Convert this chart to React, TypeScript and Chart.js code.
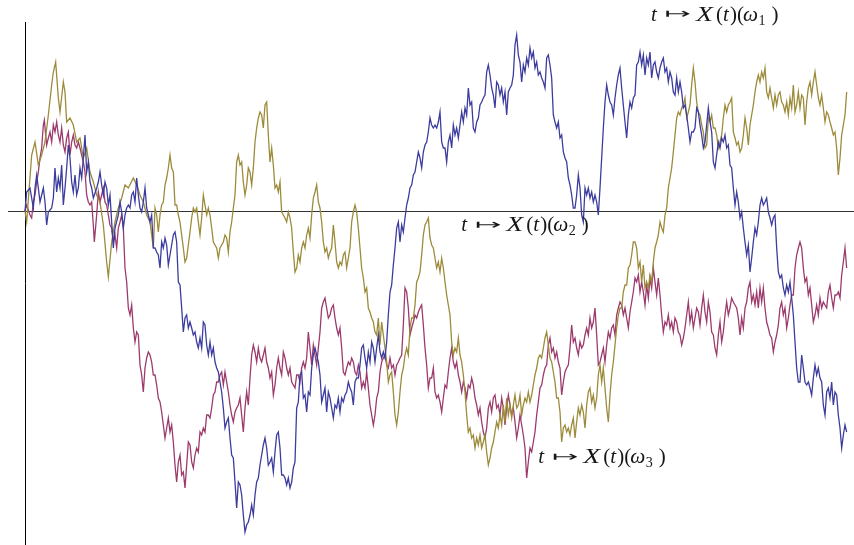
import React, { useEffect, useRef } from "react";
import { Chart, registerables } from "chart.js";

Chart.register(...registerables);

// time index: one step of the sampled path. Head segments are irregularly read,
// the rest is sampled at consecutive steps starting at TAIL_START.
const TAIL_START = 78;

// ---------- path ω1 (olive) ----------
const oliveHeadT = [0, 1, 4, 6, 8, 10, 12, 14, 16, 17, 18.4, 20, 21, 23, 24, 25, 27, 29, 31, 33, 35, 37, 39, 41, 43, 45, 47, 49, 50, 52, 54, 56, 58, 60, 62, 65, 67, 69, 71, 73, 75, 77];
const oliveHeadV = [0, -0.11, 0.56, 0.69, 0.46, 0.56, 0.69, 0.96, 1.26, 1.39, 1.49, 1.13, 0.99, 1.29, 1.19, 0.89, 0.93, 0.86, 0.69, 0.73, 0.53, 0.63, 0.39, 0.29, 0.16, 0.09, -0.14, -0.51, -0.66, -0.31, -0.11, 0.03, 0.13, 0.26, 0.23, 0.33, 0.26, 0.16, 0.09, -0.04, -0.11, -0.37];
const oliveTailV = [
  0.03, -0.04, -0.21, -0.04, 0.06, 0.09, 0.26, 0.33, 0.43, 0.56,
  0.43, 0.39, 0.06, 0.06, -0.04, -0.11, -0.24, -0.37, -0.51, -0.47,
  -0.34, -0.21, -0.07, 0.03, -0.01, 0.03, -0.11, -0.24, -0.07, 0.16,
  0.06, -0.04, 0.03, -0.04, -0.17, -0.31, -0.34, -0.37, -0.47, -0.37,
  -0.34, -0.31, -0.24, -0.27, -0.41, -0.21, -0.11, 0.03, 0.16, 0.49,
  0.56, 0.46, 0.49, 0.29, 0.16, 0.26, 0.43, 0.39, 0.26, 0.43,
  0.69, 0.83, 0.93, 0.99, 0.96, 0.83, 1.06, 1.09, 0.76, 0.49,
  0.63, 0.46, 0.23, 0.26, 0.19, 0.29, -0.01, -0.04, -0.07, -0.11,
  -0.01, -0.07, -0.17, -0.41,
  -0.61, -0.57, -0.44, -0.51, -0.37, -0.31, -0.37, -0.24, -0.17, -0.27,
  -0.04, 0.13, 0.19, 0.26, 0.09, 0.03, -0.11, -0.31, -0.41, -0.37,
  -0.47, -0.41, -0.37, -0.14, -0.31, -0.51, -0.57, -0.51, -0.54, -0.44,
  -0.41, -0.57, -0.47, -0.37, -0.11, -0.01, 0.06, -0.01, -0.17, -0.37,
  -0.57, -0.67, -0.81, -0.77, -0.97, -1.01, -1.07, -1.11, -1.21, -1.24,
  -1.07, -1.34, -1.11, -1.24, -1.37, -1.51, -1.71, -1.64, -1.61, -1.81,
  -2.04, -2.14, -2.01, -1.81, -1.64, -1.57, -1.44, -1.37, -1.44, -1.17,
  -1.07, -1.07, -0.94, -0.71, -0.67, -0.61, -0.44, -0.24, -0.14, -0.11,
  -0.07, -0.27, -0.34, -0.37,
  -0.47, -0.57, -0.51, -0.61, -0.47, -0.57, -0.71, -0.84, -0.94, -1.04,
  -1.31, -1.44, -1.37, -1.41, -1.27, -1.44, -1.51, -1.64, -1.81, -2.04,
  -2.21, -2.17, -2.27, -2.24, -2.37, -2.27, -2.34, -2.24, -2.37, -2.31,
  -2.24, -2.41, -2.54, -2.47, -2.37, -2.31, -2.21, -2.11, -2.17, -2.04,
  -2.14, -1.94, -2.11, -1.87, -2.04, -1.94, -2.07, -1.94, -1.84, -1.97,
  -1.94, -1.84, -2.04, -1.94, -1.87, -1.91, -1.81, -1.91, -1.84, -1.74,
  -1.64, -1.57, -1.47, -1.44, -1.47, -1.37, -1.27, -1.21, -1.34, -1.47,
  -1.51, -1.61, -1.71, -1.87, -1.87, -2.01, -2.31, -2.17, -2.14, -2.21,
  -2.17, -2.24, -2.14, -2.07,
  -2.27, -2.11, -1.97, -2.04, -1.94, -2.01, -2.17, -1.94, -1.81, -1.77,
  -1.91, -1.84, -1.97, -1.87, -1.64, -1.54, -1.71, -1.57, -1.77, -1.97,
  -2.11, -1.84, -1.64, -1.51, -1.34, -1.17, -1.04, -0.97, -0.97, -0.81,
  -0.74, -0.74, -0.57, -0.54, -0.44, -0.31, -0.31, -0.37, -0.57, -0.51,
  -0.71, -0.54, -0.77, -0.71, -0.77, -0.64, -0.71, -0.51, -0.37, -0.31,
  -0.24, -0.11, -0.17, -0.21, -0.04, 0.03, 0.23, 0.33, 0.43, 0.59,
  0.76, 0.93, 0.99, 0.96, 1.03, 1.06, 1.13, 0.93, 0.99, 1.06,
  1.26, 1.43, 1.29, 1.09, 0.99, 0.96, 0.86, 0.79, 0.63, 0.66,
  0.93, 0.89, 0.96, 0.83,
  0.83, 0.76, 0.63, 0.69, 0.76, 0.93, 1.06, 0.99, 1.06, 1.09,
  1.13, 0.79, 0.73, 0.66, 0.69, 0.59, 0.63, 0.76, 0.93, 0.83,
  0.66, 0.86, 0.96, 1.06, 1.19, 1.29, 1.36, 1.29, 1.39, 1.33,
  1.43, 1.19, 1.13, 1.23, 1.13, 1.03, 1.16, 1.06, 1.16, 1.19,
  1.09, 1.06, 0.99, 1.09, 0.96, 1.13, 1.03, 1.26, 0.99, 1.06,
  1.19, 1.03, 1.16, 1.13, 0.86, 1.09, 1.23, 1.29, 1.16, 1.29,
  1.39, 1.26, 1.13, 1.06, 1.16, 1.03, 0.89, 0.99, 0.96, 0.89,
  0.83, 0.76, 0.79, 0.63, 0.36, 0.53, 0.76, 0.86, 0.96, 1.19,
];

// ---------- path ω2 (blue) ----------
const blueHeadT = [0, 1, 3, 4, 5, 6, 7, 8, 9, 11, 12, 13, 14, 16, 17, 18, 19, 20, 21, 22, 23, 24, 25, 26, 27, 28, 29, 30, 31, 32, 33, 34, 35, 36, 37, 38, 39, 40, 41, 43, 44, 45, 46, 47, 48, 49, 50, 51, 52, 53, 54, 56, 57, 58, 59, 60, 61, 62, 63, 64, 65, 66, 67, 68, 69, 70, 71, 72, 73, 74, 75, 76, 77];
const blueHeadV = [0, 0.19, 0.23, 0.13, 0.03, 0.23, 0.36, 0.23, 0.09, 0.23, 0.09, -0.14, -0.01, 0.03, 0.13, 0.43, 0.19, 0.33, 0.23, 0.46, 0.06, 0.23, 0.43, 0.66, 0.53, 0.29, 0.19, 0.36, 0.16, 0.23, 0.43, 0.33, 0.53, 0.76, 0.39, 0.49, 0.29, 0.23, 0.13, 0.23, 0.29, 0.39, 0.26, 0.16, 0.29, 0.23, 0.06, 0.16, -0.11, -0.37, -0.17, -0.04, 0.09, -0.01, -0.17, -0.04, 0.03, 0.06, 0.03, 0.16, 0.19, 0.09, 0.33, 0.16, 0.03, -0.01, 0.09, 0.23, 0.03, -0.04, -0.11, -0.04, -0.37];
const blueTailV = [
  -0.37, -0.41, -0.44, -0.57, -0.31, -0.37, -0.27, -0.34, -0.54, -0.44,
  -0.34, -0.24, -0.21, -0.31, -0.71, -0.74, -0.97, -1.21, -1.07, -1.04,
  -1.17, -1.11, -1.17, -1.24, -1.21, -1.31, -1.37, -1.27, -1.37, -1.11,
  -1.14, -1.34, -1.44, -1.31, -1.44, -1.37, -1.51, -1.57, -1.61, -1.71,
  -1.81, -1.97, -2.17, -2.11, -2.07, -2.27, -2.44, -2.47, -2.71, -2.97,
  -2.71, -2.74, -2.84, -3.04, -3.21, -3.14, -3.11, -3.04, -2.94, -3.04,
  -2.84, -2.71, -2.67, -2.54, -2.44, -2.34, -2.27, -2.37, -2.54, -2.51,
  -2.47, -2.61, -2.41, -2.24, -2.21, -2.37, -2.64, -2.64, -2.67, -2.74,
  -2.67, -2.77, -2.71, -2.57,
  -2.51, -1.97, -1.91, -1.64, -1.61, -1.87, -1.84, -2.01, -1.81, -1.84,
  -1.57, -1.44, -1.37, -1.44, -1.51, -1.64, -1.91, -1.84, -1.77, -2.01,
  -1.81, -1.87, -1.97, -2.07, -1.94, -1.97, -1.87, -2.01, -1.87, -1.91,
  -1.84, -1.81, -1.71, -1.77, -1.81, -1.94, -1.71, -1.67, -1.67, -1.54,
  -1.37, -1.34, -1.47, -1.57, -1.41, -1.51, -1.31, -1.37, -1.51, -1.37,
  -1.24, -1.41, -1.47, -1.41, -1.47, -1.31, -1.04, -0.81, -0.74, -0.54,
  -0.37, -0.17, -0.11, -0.31, -0.14, -0.21, -0.07, 0.06, 0.13, 0.23,
  0.26, 0.36, 0.39, 0.49, 0.59, 0.53, 0.43, 0.59, 0.66, 0.69,
  0.79, 0.93, 0.86, 0.83,
  0.86, 0.83, 0.89, 0.99, 0.69, 0.63, 0.63, 0.49, 0.69, 0.76,
  0.63, 0.86, 0.76, 0.83, 0.73, 0.86, 0.99, 0.89, 1.03, 0.96,
  1.23, 1.06, 1.09, 0.83, 0.79, 0.89, 0.93, 1.06, 1.09, 1.13,
  1.16, 1.39, 1.46, 1.36, 1.23, 1.16, 1.03, 1.29, 1.26, 1.16,
  1.23, 1.09, 1.19, 0.96, 1.19, 1.23, 1.26, 1.36, 1.66, 1.76,
  1.56, 1.49, 1.29, 1.46, 1.39, 1.53, 1.46, 1.63, 1.53, 1.59,
  1.43, 1.49, 1.36, 1.39, 1.33, 1.29, 1.23, 1.53, 1.56, 1.46,
  1.33, 0.96, 0.89, 0.83, 0.89, 0.73, 0.76, 0.59, 0.53, 0.49,
  0.33, 0.26, 0.16, 0.03,
  0.03, 0.16, 0.36, 0.23, -0.04, -0.11, 0.23, 0.16, 0.23, 0.13,
  0.19, 0.09, 0.16, 0.09, -0.04, 0.23, 0.53, 0.83, 1.09, 1.26,
  1.16, 1.09, 1.06, 0.96, 1.13, 1.26, 1.36, 1.43, 1.23, 1.06,
  0.89, 0.73, 0.96, 1.09, 1.03, 1.13, 1.16, 1.46, 1.49, 1.59,
  1.46, 1.56, 1.36, 1.53, 1.46, 1.59, 1.33, 1.46, 1.49, 1.39,
  1.33, 1.43, 1.49, 1.53, 1.39, 1.43, 1.29, 1.39, 1.33, 1.19,
  1.16, 1.33, 1.19, 1.29, 1.19, 1.03, 1.06, 0.96, 0.83, 0.69,
  0.79, 0.79, 0.83, 1.03, 0.99, 0.86, 0.76, 0.63, 0.69, 0.86,
  1.03, 0.89, 0.79, 0.49,
  0.43, 0.56, 0.69, 0.63, 0.73, 0.69, 0.76, 0.63, 0.66, 0.46,
  0.43, 0.23, 0.06, 0.19, 0.09, -0.07, -0.01, -0.17, -0.31, -0.44,
  -0.34, -0.61, -0.47, -0.31, -0.17, -0.24, -0.11, 0.06, 0.13, 0.06,
  0.09, 0.13, -0.01, -0.07, -0.14, -0.07, -0.04, -0.37, -0.61, -0.67,
  -0.64, -0.77, -0.84, -0.74, -0.81, -0.71, -0.87, -1.04, -1.31, -1.57,
  -1.71, -1.71, -1.44, -1.57, -1.71, -1.74, -1.71, -1.77, -1.84, -1.67,
  -1.54, -1.64, -1.57, -1.67, -1.71, -1.94, -2.04, -1.81, -1.77, -1.87,
  -1.71, -1.94, -1.81, -1.84, -2.04, -2.17, -2.37, -2.24, -2.14, -2.21,
];

// ---------- path ω3 (magenta) ----------
const magHeadT = [0, 1, 3, 4, 5, 6, 7, 8, 9, 10, 11, 11.6, 12.4, 13, 14, 15, 16, 17, 18, 19, 20, 21, 22, 23, 24, 25, 26, 27, 28, 29, 30, 31, 32, 33, 34, 35, 36, 37, 38, 39, 40, 41, 41.6, 43, 44, 45, 46, 47, 48, 49, 50, 51, 52, 53, 54, 55, 56, 57, 58, 59, 60, 61, 62, 63, 64, 65, 66, 67, 68, 69, 70, 71, 72, 73, 74, 75, 76, 77];
const magHeadV = [0, 0.06, -0.04, -0.07, 0.09, 0.16, 0.29, 0.39, 0.53, 0.63, 0.86, 0.91, 0.76, 0.66, 0.73, 0.79, 0.69, 0.86, 0.79, 0.89, 0.76, 0.69, 0.83, 0.66, 0.59, 0.73, 0.79, 0.56, 0.69, 0.76, 0.66, 0.63, 0.69, 0.63, 0.56, 0.49, 0.39, 0.16, 0.09, 0.06, 0.09, -0.14, -0.31, -0.04, 0.19, 0.09, 0.16, 0.23, 0.09, 0.06, -0.04, -0.14, -0.17, -0.31, -0.24, -0.37, -0.17, -0.11, -0.04, -0.17, -0.57, -0.71, -0.97, -1.04, -0.94, -1.17, -1.31, -1.21, -1.24, -1.54, -1.64, -1.81, -1.57, -1.47, -1.41, -1.44, -1.51, -1.64];
const magTailV = [
  -1.64, -1.74, -1.87, -1.91, -2.01, -2.14, -2.27, -2.17, -2.07, -2.21,
  -2.14, -2.31, -2.54, -2.71, -2.51, -2.44, -2.64, -2.61, -2.77, -2.54,
  -2.31, -2.34, -2.51, -2.57, -2.44, -2.37, -2.41, -2.21, -2.24, -2.17,
  -2.21, -2.04, -2.04, -2.07, -1.97, -1.84, -1.81, -1.71, -1.71, -1.64,
  -1.61, -1.74, -1.61, -1.71, -1.81, -1.94, -2.04, -2.11, -2.01, -1.97,
  -1.94, -1.87, -2.04, -2.21, -1.97, -1.81, -1.94, -1.67, -1.44, -1.34,
  -1.41, -1.51, -1.37, -1.47, -1.51, -1.44, -1.37, -1.51, -1.57, -1.67,
  -1.61, -1.84, -1.74, -1.57, -1.47, -1.57, -1.64, -1.41, -1.47, -1.57,
  -1.64, -1.57, -1.71, -1.74,
  -1.77, -1.64, -1.64, -1.71, -1.57, -1.51, -1.57, -1.47, -1.21, -1.37,
  -1.54, -1.34, -1.44, -1.54, -1.37, -1.21, -0.97, -0.91, -0.87, -0.97,
  -1.07, -1.04, -0.97, -0.94, -1.07, -1.17, -1.24, -1.17, -1.37, -1.61,
  -1.64, -1.57, -1.51, -1.54, -1.47, -1.51, -1.61, -1.64, -1.54, -1.61,
  -1.77, -1.71, -1.77, -1.61, -1.77, -1.94, -2.04, -2.14, -2.04, -1.87,
  -1.81, -1.61, -1.51, -1.47, -1.44, -1.54, -1.57, -1.47, -1.57, -1.54,
  -1.64, -1.54, -1.51, -1.47, -1.44, -1.14, -0.77, -0.81, -0.97, -1.24,
  -1.17, -1.11, -1.04, -1.07, -1.01, -0.97, -0.94, -1.14, -1.37, -1.54,
  -1.77, -1.67, -1.67, -1.57,
  -1.81, -1.87, -1.84, -1.91, -2.01, -1.87, -1.74, -1.77, -1.61, -1.47,
  -1.37, -1.51, -1.57, -1.51, -1.64, -1.71, -1.81, -1.71, -1.77, -1.87,
  -1.74, -1.77, -1.67, -1.74, -1.87, -1.94, -2.04, -1.97, -2.11, -2.21,
  -2.27, -2.17, -1.97, -1.91, -2.01, -1.87, -1.84, -1.97, -1.94, -2.04,
  -1.87, -1.97, -2.14, -1.97, -1.84, -1.94, -2.04, -1.97, -2.11, -2.27,
  -2.17, -2.04, -2.14, -2.24, -2.37, -2.67, -2.51, -2.37, -2.41, -2.31,
  -2.21, -2.04, -1.91, -1.77, -1.74, -1.64, -1.57, -1.54, -1.34, -1.27,
  -1.41, -1.37, -1.47, -1.41, -1.51, -1.57, -1.84, -1.71, -1.61, -1.57,
  -1.54, -1.37, -1.14, -1.31,
  -1.27, -1.37, -1.44, -1.31, -1.37, -1.34, -1.24, -1.17, -1.24, -1.07,
  -1.17, -1.11, -0.97, -1.24, -1.54, -1.51, -1.44, -1.37, -1.51, -1.34,
  -1.21, -1.27, -1.17, -1.14, -1.24, -1.04, -0.97, -0.91, -0.94, -1.04,
  -0.97, -1.07, -1.17, -1.01, -0.91, -0.81, -0.67, -0.71, -0.64, -0.81,
  -0.71, -0.81, -0.94, -0.74, -0.87, -0.67, -0.77, -0.57, -0.71, -0.84,
  -0.67, -0.84, -1.04, -1.21, -1.11, -1.14, -1.04, -1.17, -1.11, -1.21,
  -1.07, -1.11, -1.21, -1.24, -1.34, -1.27, -1.17, -1.04, -0.91, -1.11,
  -1.01, -1.17, -1.07, -0.97, -1.01, -1.14, -0.97, -0.84, -1.01, -1.11,
  -0.91, -1.01, -1.21, -1.24,
  -1.37, -1.44, -1.24, -1.11, -1.31, -1.21, -1.04, -0.91, -1.04, -0.97,
  -0.87, -0.91, -0.94, -0.97, -1.07, -1.24, -1.07, -1.17, -0.97, -0.91,
  -0.77, -0.71, -0.91, -0.84, -0.94, -0.81, -0.97, -0.77, -0.91, -0.77,
  -0.97, -1.11, -1.17, -1.24, -1.27, -1.41, -1.31, -1.24, -1.14, -0.97,
  -0.91, -1.04, -0.97, -1.17, -1.07, -0.94, -0.84, -0.84, -0.57, -0.44,
  -0.37, -0.31, -0.37, -0.57, -0.71, -0.67, -0.84, -0.77, -0.94, -1.11,
  -1.04, -0.94, -1.04, -0.87, -0.97, -0.91, -0.94, -0.97, -0.81, -0.74,
  -0.87, -0.97, -0.84, -0.84, -0.81, -0.87, -0.64, -0.51, -0.37, -0.57,
];

// path labels: subscript index, anchor time and value (baseline)
const labelIndex = ["1", "2", "3"];
const labelT = [375.6, 261.8, 308];
const labelV = [1.905, -0.203, -2.52];

function buildPoints(headT: number[], headV: number[], tailV: number[]) {
  const pts = headT.map((t, i) => ({ x: t, y: headV[i] }));
  tailV.forEach((v, i) => pts.push({ x: TAIL_START + i, y: v }));
  return pts;
}

const labelPlugin = {
  id: "pathLabels",
  afterDatasetsDraw(chart: any) {
    const { ctx, scales } = chart;
    const xs = scales.x;
    const ys = scales.y;
    const italic = 'italic 21px "Liberation Serif", "DejaVu Serif", serif';
    const italicBig = 'italic 22px "Liberation Serif", "DejaVu Serif", serif';
    const upright = '21px "Liberation Serif", "DejaVu Serif", serif';
    const sub = '14px "Liberation Serif", "DejaVu Serif", serif';
    const arrowFont = '21px "DejaVu Sans", sans-serif';
    ctx.save();
    ctx.fillStyle = "#161616";
    ctx.textBaseline = "alphabetic";
    ctx.textAlign = "left";
    for (let k = 0; k < labelIndex.length; k++) {
      const x0 = xs.getPixelForValue(labelT[k]);
      const y0 = ys.getPixelForValue(labelV[k]);
      // draw a glyph, optionally stretched to a target width / squeezed vertically
      const put = (s: string, dx: number, font: string, w = 0, dy = 0, sy = 1) => {
        ctx.font = font;
        if (w > 0 || sy !== 1) {
          const m = ctx.measureText(s).width;
          ctx.save();
          ctx.translate(x0 + dx, y0 + dy);
          ctx.scale(w > 0 ? w / m : 1, sy);
          ctx.fillText(s, 0, 0);
          ctx.restore();
        } else {
          ctx.fillText(s, x0 + dx, y0 + dy);
        }
      };
      put("t", 0, italic);
      put("\u21A6", 13.6, arrowFont, 26.5, -2.2, 0.68);
      put("X", 45, italicBig, 17);
      put("(", 65, upright);
      put("t", 72, italic);
      put(")", 79, upright);
      put("(", 86, upright);
      put("\u03C9", 92, italic, 15);
      put(labelIndex[k], 107.5, sub, 0, 4);
      put(")", 120.5, upright);
    }
    ctx.restore();
  },
};

export default function App() {
  const canvasRef = useRef<HTMLCanvasElement | null>(null);

  useEffect(() => {
    const canvas = canvasRef.current;
    if (!canvas) return;
    const onlyZero = (scale: any) => {
      scale.ticks = [{ value: 0 }];
    };
    const chart = new Chart(canvas, {
      type: "line",
      data: {
        datasets: [
          {
            label: "ω2",
            data: buildPoints(blueHeadT, blueHeadV, blueTailV),
            borderColor: "#3c3c9e",
            borderWidth: 1.3,
            pointRadius: 0,
            tension: 0,
            fill: false,
          },
          {
            label: "ω1",
            data: buildPoints(oliveHeadT, oliveHeadV, oliveTailV),
            borderColor: "#9c8b3a",
            borderWidth: 1.3,
            pointRadius: 0,
            tension: 0,
            fill: false,
          },
          {
            label: "ω3",
            data: buildPoints(magHeadT, magHeadV, magTailV),
            borderColor: "#9c3a6c",
            borderWidth: 1.3,
            pointRadius: 0,
            tension: 0,
            fill: false,
          },
        ],
      },
      options: {
        animation: false,
        responsive: false,
        devicePixelRatio: 1,
        layout: { padding: { left: 8, right: 0, top: 22, bottom: 0 } },
        plugins: {
          legend: { display: false },
          tooltip: { enabled: false },
        },
        events: [],
        scales: {
          x: {
            type: "linear",
            min: -10.2,
            max: 497.4,
            afterBuildTicks: onlyZero,
            ticks: { display: false },
            border: { display: false },
            grid: { drawTicks: false, color: "#000", lineWidth: 1 },
          },
          y: {
            type: "linear",
            min: -3.34,
            max: 1.89,
            afterBuildTicks: onlyZero,
            ticks: { display: false },
            border: { display: false },
            grid: { drawTicks: false, color: "#333", lineWidth: 1 },
          },
        },
      },
      plugins: [labelPlugin],
    });
    return () => chart.destroy();
  }, []);

  return (
    <div style={{ position: "fixed", left: 0, top: 0, width: 854, height: 545, background: "#fff" }}>
      <canvas ref={canvasRef} width={854} height={545} style={{ width: 854, height: 545, display: "block" }} />
    </div>
  );
}
